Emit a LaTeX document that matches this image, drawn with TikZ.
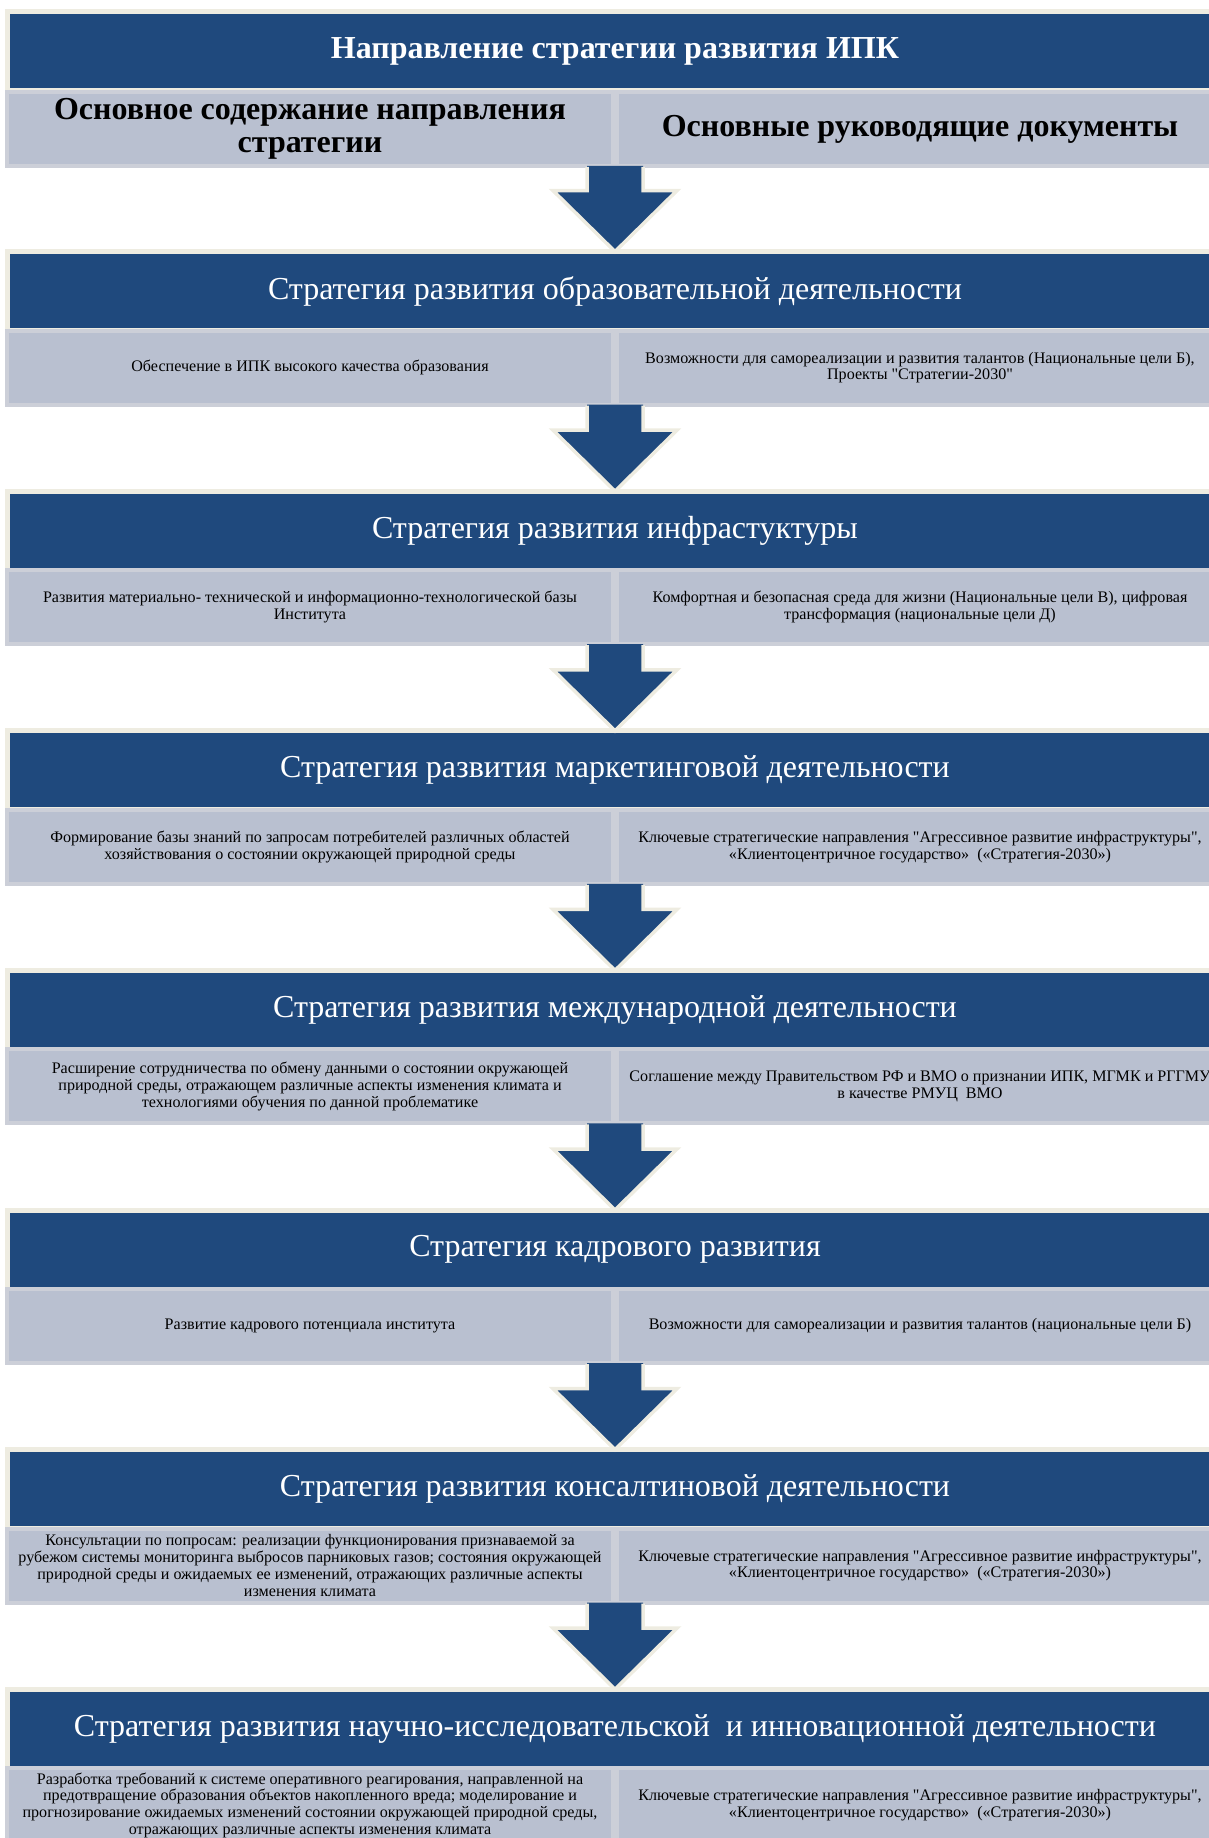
\documentclass[tikz,border=0pt]{standalone}
\usepackage{fontspec}
\setmainfont{Liberation Serif}
\usetikzlibrary{calc}
\definecolor{stratblue}{RGB}{31,73,125}
\definecolor{cellgray}{RGB}{185,192,208}
\definecolor{cellline}{RGB}{204,207,216}
\definecolor{creamline}{RGB}{238,236,225}

\newcommand{\sq}{\textquotedbl}
% block arrow from a row (#1 title, #2 cell) down to the next title #3
\newcommand{\stratarrow}[3]{%
  \fill[stratblue] ($(#1 |- #2.south)+(-28,0)$) -- ($(#1 |- #2.south)+(28,0)$)
    -- ($(#3.north)+(28,-61)$) -- ($(#3.north)+(62,-61)$) -- (#3.north)
    -- ($(#3.north)+(-62,-61)$) -- ($(#3.north)+(-28,-61)$) -- cycle;
  \draw[arrowline] ($(#1 |- #2.south)+(28,1)$)
    -- ($(#3.north)+(28,-61)$) -- ($(#3.north)+(62,-61)$) -- (#3.north)
    -- ($(#3.north)+(-62,-61)$) -- ($(#3.north)+(-28,-61)$) -- ($(#1 |- #2.south)+(-28,1)$);}

\tikzset{
  titlebox/.style={draw=creamline, line width=5, fill=stratblue, text=white, outer sep=0,
    minimum width=1216, minimum height=79, inner sep=0, font=\fontsize{32}{34}\selectfont},
  cellbox/.style={draw=cellline, line width=4, fill=cellgray, outer sep=0, inner sep=0,
    minimum width=606, minimum height=74, align=center, font=\fontsize{16.1}{16.8}\selectfont},
  headcell/.style={cellbox, font=\bfseries\fontsize{32}{33}\selectfont},
  arrowline/.style={draw=creamline, line width=3.5, line join=miter},
}

\begin{document}
\begin{tikzpicture}[x=1pt, y=-1pt]
\useasboundingbox (0,0) rectangle (1209,1838);
\clip (0,0) rectangle (1209,1838);

% header
\node[titlebox, font=\bfseries\fontsize{32}{34}\selectfont] (t0) at (615,51.5) {Направление стратегии развития ИПК};
\node[headcell] (l0) at (310,129) {Основное содержание направления\\стратегии};
\node[headcell] (r0) at (920,129) {Основные руководящие документы};

% education
\node[titlebox] (t1) at (615,291.1) {Стратегия развития образовательной деятельности};
\node[cellbox] (l1) at (310,367.6) {Обеспечение в ИПК высокого качества образования};
\node[cellbox] (r1) at (920,367.6) {Возможности для самореализации и развития талантов (Национальные цели Б),\\Проекты \sq Стратегии-2030\sq};

% infrastructure
\node[titlebox] (t2) at (615,530.7) {Стратегия развития инфрастуктуры};
\node[cellbox] (l2) at (310,607.2) {Развития материально- технической и информационно-технологической базы\\Института};
\node[cellbox] (r2) at (920,607.2) {Комфортная и безопасная среда для жизни (Национальные цели В), цифровая\\трансформация (национальные цели Д)};

% marketing
\node[titlebox] (t3) at (615,770.3) {Стратегия развития маркетинговой деятельности};
\node[cellbox] (l3) at (310,846.8) {Формирование базы знаний по запросам потребителей различных областей\\хозяйствования о состоянии окружающей природной среды};
\node[cellbox] (r3) at (920,846.8) {Ключевые стратегические направления \sq Агрессивное развитие инфраструктуры\sq,\\«Клиентоцентричное государство»\ \ («Стратегия-2030»)};

% international
\node[titlebox] (t4) at (615,1009.9) {Стратегия развития международной деятельности};
\node[cellbox] (l4) at (310,1086.4) {Расширение сотрудничества по обмену данными о состоянии окружающей\\природной среды, отражающем различные аспекты изменения климата и\\технологиями обучения по данной проблематике};
\node[cellbox] (r4) at (920,1086.4) {Соглашение между Правительством РФ и ВМО о признании ИПК, МГМК и РГГМУ\\в качестве РМУЦ\ \ ВМО};

% staff
\node[titlebox] (t5) at (615,1249.5) {Стратегия кадрового развития};
\node[cellbox] (l5) at (310,1326) {Развитие кадрового потенциала института};
\node[cellbox] (r5) at (920,1326) {Возможности для самореализации и развития талантов (национальные цели Б)};

% consulting
\node[titlebox] (t6) at (615,1489.1) {Стратегия развития консалтиновой деятельности};
\node[cellbox] (l6) at (310,1565.6) {Консультации по попросам: реализации функционирования признаваемой за\\рубежом системы мониторинга выбросов парниковых газов; состояния окружающей\\природной среды и ожидаемых ее изменений, отражающих различные аспекты\\изменения климата};
\node[cellbox] (r6) at (920,1565.6) {Ключевые стратегические направления \sq Агрессивное развитие инфраструктуры\sq,\\«Клиентоцентричное государство»\ \ («Стратегия-2030»)};

% research
\node[titlebox] (t7) at (615,1728.7) {Стратегия развития научно-исследовательской\ \ и инновационной деятельности};
\node[cellbox] (l7) at (310,1805.2) {Разработка требований к системе оперативного реагирования, направленной на\\предотвращение образования объектов накопленного вреда; моделирование и\\прогнозирование ожидаемых изменений состоянии окружающей природной среды,\\отражающих различные аспекты изменения климата};
\node[cellbox] (r7) at (920,1805.2) {Ключевые стратегические направления \sq Агрессивное развитие инфраструктуры\sq,\\«Клиентоцентричное государство»\ \ («Стратегия-2030»)};

\stratarrow{t0}{l0}{t1}
\stratarrow{t1}{l1}{t2}
\stratarrow{t2}{l2}{t3}
\stratarrow{t3}{l3}{t4}
\stratarrow{t4}{l4}{t5}
\stratarrow{t5}{l5}{t6}
\stratarrow{t6}{l6}{t7}
\end{tikzpicture}
\end{document}
